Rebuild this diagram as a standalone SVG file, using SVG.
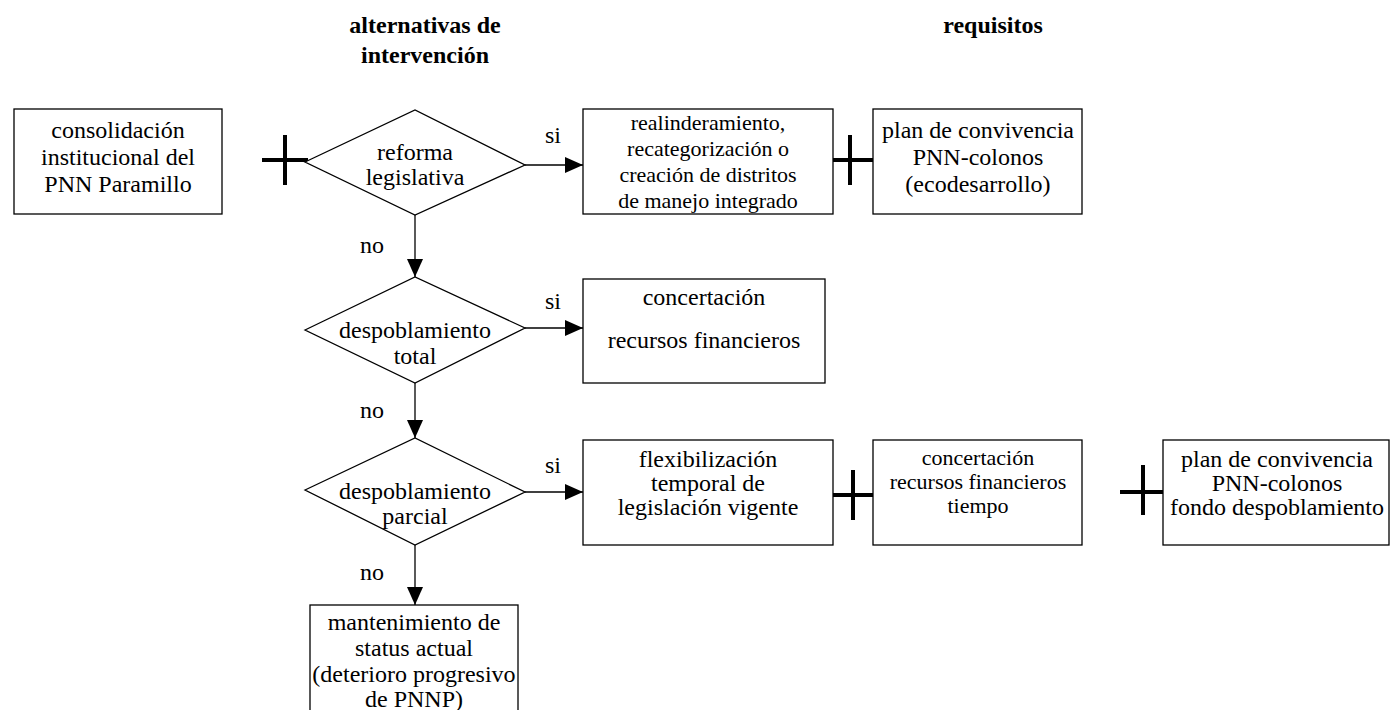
<svg xmlns="http://www.w3.org/2000/svg" width="1390" height="710" viewBox="0 0 1390 710">
<defs>
<marker id="ah" markerWidth="18" markerHeight="16" refX="18" refY="8" orient="auto" markerUnits="userSpaceOnUse"><path d="M0,0 L18,8 L0,16 Z" fill="#000"/></marker>
<style>
text{font-family:"Liberation Serif","Times New Roman",serif;font-size:24px;fill:#000;text-anchor:middle}
.t{font-weight:bold;font-size:24px}
.s{font-size:22px}
.b{fill:#fff;stroke:#000;stroke-width:1.3}
.c{stroke:#000;stroke-width:1.3;fill:none}
.p{stroke:#000;stroke-width:4;fill:none}
</style>
</defs>
<rect width="1390" height="710" fill="#fff"/>
<g id="titles">
<text class="t" x="425" y="33">alternativas de</text>
<text class="t" x="425" y="63">intervención</text>
<text class="t" x="993" y="33">requisitos</text>
</g>
<g id="connectors">
<line class="c" x1="525" y1="165" x2="583" y2="165" marker-end="url(#ah)"/>
<line class="c" x1="415" y1="215" x2="415" y2="277" marker-end="url(#ah)"/>
<line class="c" x1="525" y1="328" x2="583" y2="328" marker-end="url(#ah)"/>
<line class="c" x1="415" y1="383" x2="415" y2="438" marker-end="url(#ah)"/>
<line class="c" x1="525" y1="492" x2="583" y2="492" marker-end="url(#ah)"/>
<line class="c" x1="415" y1="545" x2="415" y2="605" marker-end="url(#ah)"/>
<text x="553" y="143">si</text>
<text x="553" y="309">si</text>
<text x="553" y="473">si</text>
<text x="372" y="253">no</text>
<text x="372" y="418">no</text>
<text x="372" y="580">no</text>
<path class="p" d="M262,160 H308 M285,135 V185"/>
<path class="p" d="M833,160 H873 M850,135 V185"/>
<path class="p" d="M833,495 H873 M853,470 V520"/>
<path class="p" d="M1120,492 H1163 M1143,465 V515"/>
</g>
<g id="n1">
<rect class="b" x="14" y="109" width="208" height="105"/>
<text x="118" y="138">consolidación</text>
<text x="118" y="165">institucional del</text>
<text x="118" y="192">PNN Paramillo</text>
</g>
<g id="d1">
<polygon class="b" points="305,162 415,110 525,165 415,215"/>
<text x="415" y="160">reforma</text>
<text x="415" y="185">legislativa</text>
</g>
<g id="n2">
<rect class="b" x="583" y="109" width="250" height="105"/>
<text class="s" x="708" y="130">realinderamiento,</text>
<text class="s" x="708" y="156">recategorización o</text>
<text class="s" x="708" y="182">creación de distritos</text>
<text class="s" x="708" y="208">de manejo integrado</text>
</g>
<g id="n3">
<rect class="b" x="873" y="109" width="209" height="105"/>
<text x="978" y="138">plan de convivencia</text>
<text x="978" y="165">PNN-colonos</text>
<text x="978" y="192">(ecodesarrollo)</text>
</g>
<g id="d2">
<polygon class="b" points="305,330 415,277 525,328 415,383"/>
<text x="415" y="338">despoblamiento</text>
<text x="415" y="364">total</text>
</g>
<g id="n4">
<rect class="b" x="583" y="279" width="242" height="104"/>
<text x="704" y="305">concertación</text>
<text x="704" y="348">recursos financieros</text>
</g>
<g id="d3">
<polygon class="b" points="305,490 415,438 525,492 415,545"/>
<text x="415" y="499">despoblamiento</text>
<text x="415" y="524">parcial</text>
</g>
<g id="n5">
<rect class="b" x="583" y="440" width="250" height="105"/>
<text x="708" y="467">flexibilización</text>
<text x="708" y="491">temporal de</text>
<text x="708" y="515">legislación vigente</text>
</g>
<g id="n6">
<rect class="b" x="873" y="440" width="209" height="105"/>
<text class="s" x="978" y="465">concertación</text>
<text class="s" x="978" y="489">recursos financieros</text>
<text class="s" x="978" y="513">tiempo</text>
</g>
<g id="n7">
<rect class="b" x="1163" y="440" width="226" height="105"/>
<text x="1277" y="467">plan de convivencia</text>
<text x="1277" y="491">PNN-colonos</text>
<text x="1277" y="515">fondo despoblamiento</text>
</g>
<g id="n8">
<rect class="b" x="310" y="605" width="208" height="110"/>
<text x="414" y="630">mantenimiento de</text>
<text x="414" y="656">status actual</text>
<text x="414" y="682">(deterioro progresivo</text>
<text x="414" y="707">de PNNP)</text>
</g>
</svg>
